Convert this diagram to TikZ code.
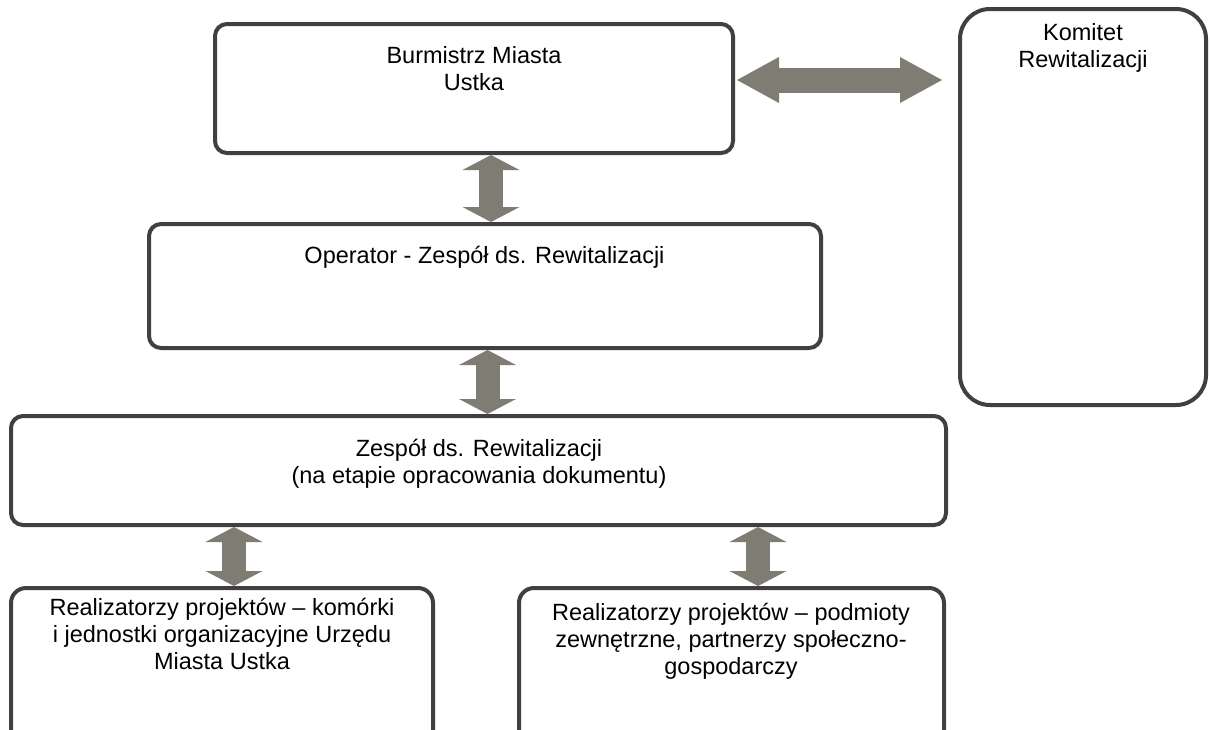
\documentclass[tikz,border=0pt]{standalone}
\usepackage{fontspec}
\setmainfont{Liberation Sans}
\usetikzlibrary{arrows.meta}
\definecolor{boxline}{RGB}{64,64,64}
\definecolor{arrowgray}{RGB}{127,124,115}
\begin{document}
\begin{tikzpicture}[x=1pt,y=-1pt,
 box/.style={draw=boxline, line width=4pt, rounded corners=12pt, fill=white, anchor=north west, inner sep=0pt},
 lbl/.style={anchor=north, align=center, inner sep=0pt, font=\fontsize{23.5}{27}\selectfont},
 varrow/.style={draw=arrowgray, line width=24pt, {Triangle[width=57pt,length=15pt,line width=0pt]}-{Triangle[width=57pt,length=15pt,line width=0pt]}},
 harrow/.style={draw=arrowgray, line width=25pt, {Triangle[width=46pt,length=42pt,line width=0pt]}-{Triangle[width=46pt,length=42pt,line width=0pt]}},
]
\useasboundingbox (0,0) rectangle (1210,729);
\clip (0,0) rectangle (1210,729);
\fill[white] (0,0) rectangle (1210,729);

% boxes
\node[box, minimum width=518pt, minimum height=129pt] (burm) at (213,22) {};
\node[box, rounded corners=30pt, minimum width=246pt, minimum height=396pt] (kom) at (958,7) {};
\node[box, minimum width=672pt, minimum height=124pt] (oper) at (147,222) {};
\node[box, minimum width=935pt, minimum height=109pt] (zesp) at (9,414) {};
\node[box, rounded corners=15pt, minimum width=422pt, minimum height=200pt] (bl) at (9,586) {};
\node[box, rounded corners=15pt, minimum width=425pt, minimum height=200pt] (br) at (517,586) {};

% labels
\node[lbl] (burmT) at (474,46) {Burmistrz Miasta\\Ustka};
\node[lbl] (komT) at (1083,23) {Komitet\\Rewitalizacji};
\node[lbl] (operT) at (484.5,246) {Operator - Zespół ds. Rewitalizacji};
\node[lbl] (zespT) at (479,439) {Zespół ds. Rewitalizacji\\(na etapie opracowania dokumentu)};
\node[lbl] (blT) at (222,598) {Realizatorzy projektów – komórki\\i jednostki organizacyjne Urzędu\\Miasta Ustka};
\node[lbl] (brT) at (731,603) {Realizatorzy projektów – podmioty\\zewnętrzne, partnerzy społeczno-\\gospodarczy};

% connector positions
\coordinate (c1) at (491,0);
\coordinate (c2) at (487.5,0);
\coordinate (c3) at (234,0);
\coordinate (c4) at (758,0);
\coordinate (h) at (0,80);

% arrows
\draw[harrow, shorten <=2pt, shorten >=16pt] (burm.east |- h) -- (kom.west |- h);
\draw[varrow] (burm.south -| c1) -- (oper.north -| c1);
\draw[varrow] (oper.south -| c2) -- (zesp.north -| c2);
\draw[varrow] (zesp.south -| c3) -- (bl.north -| c3);
\draw[varrow] (zesp.south -| c4) -- (br.north -| c4);
\end{tikzpicture}
\end{document}
